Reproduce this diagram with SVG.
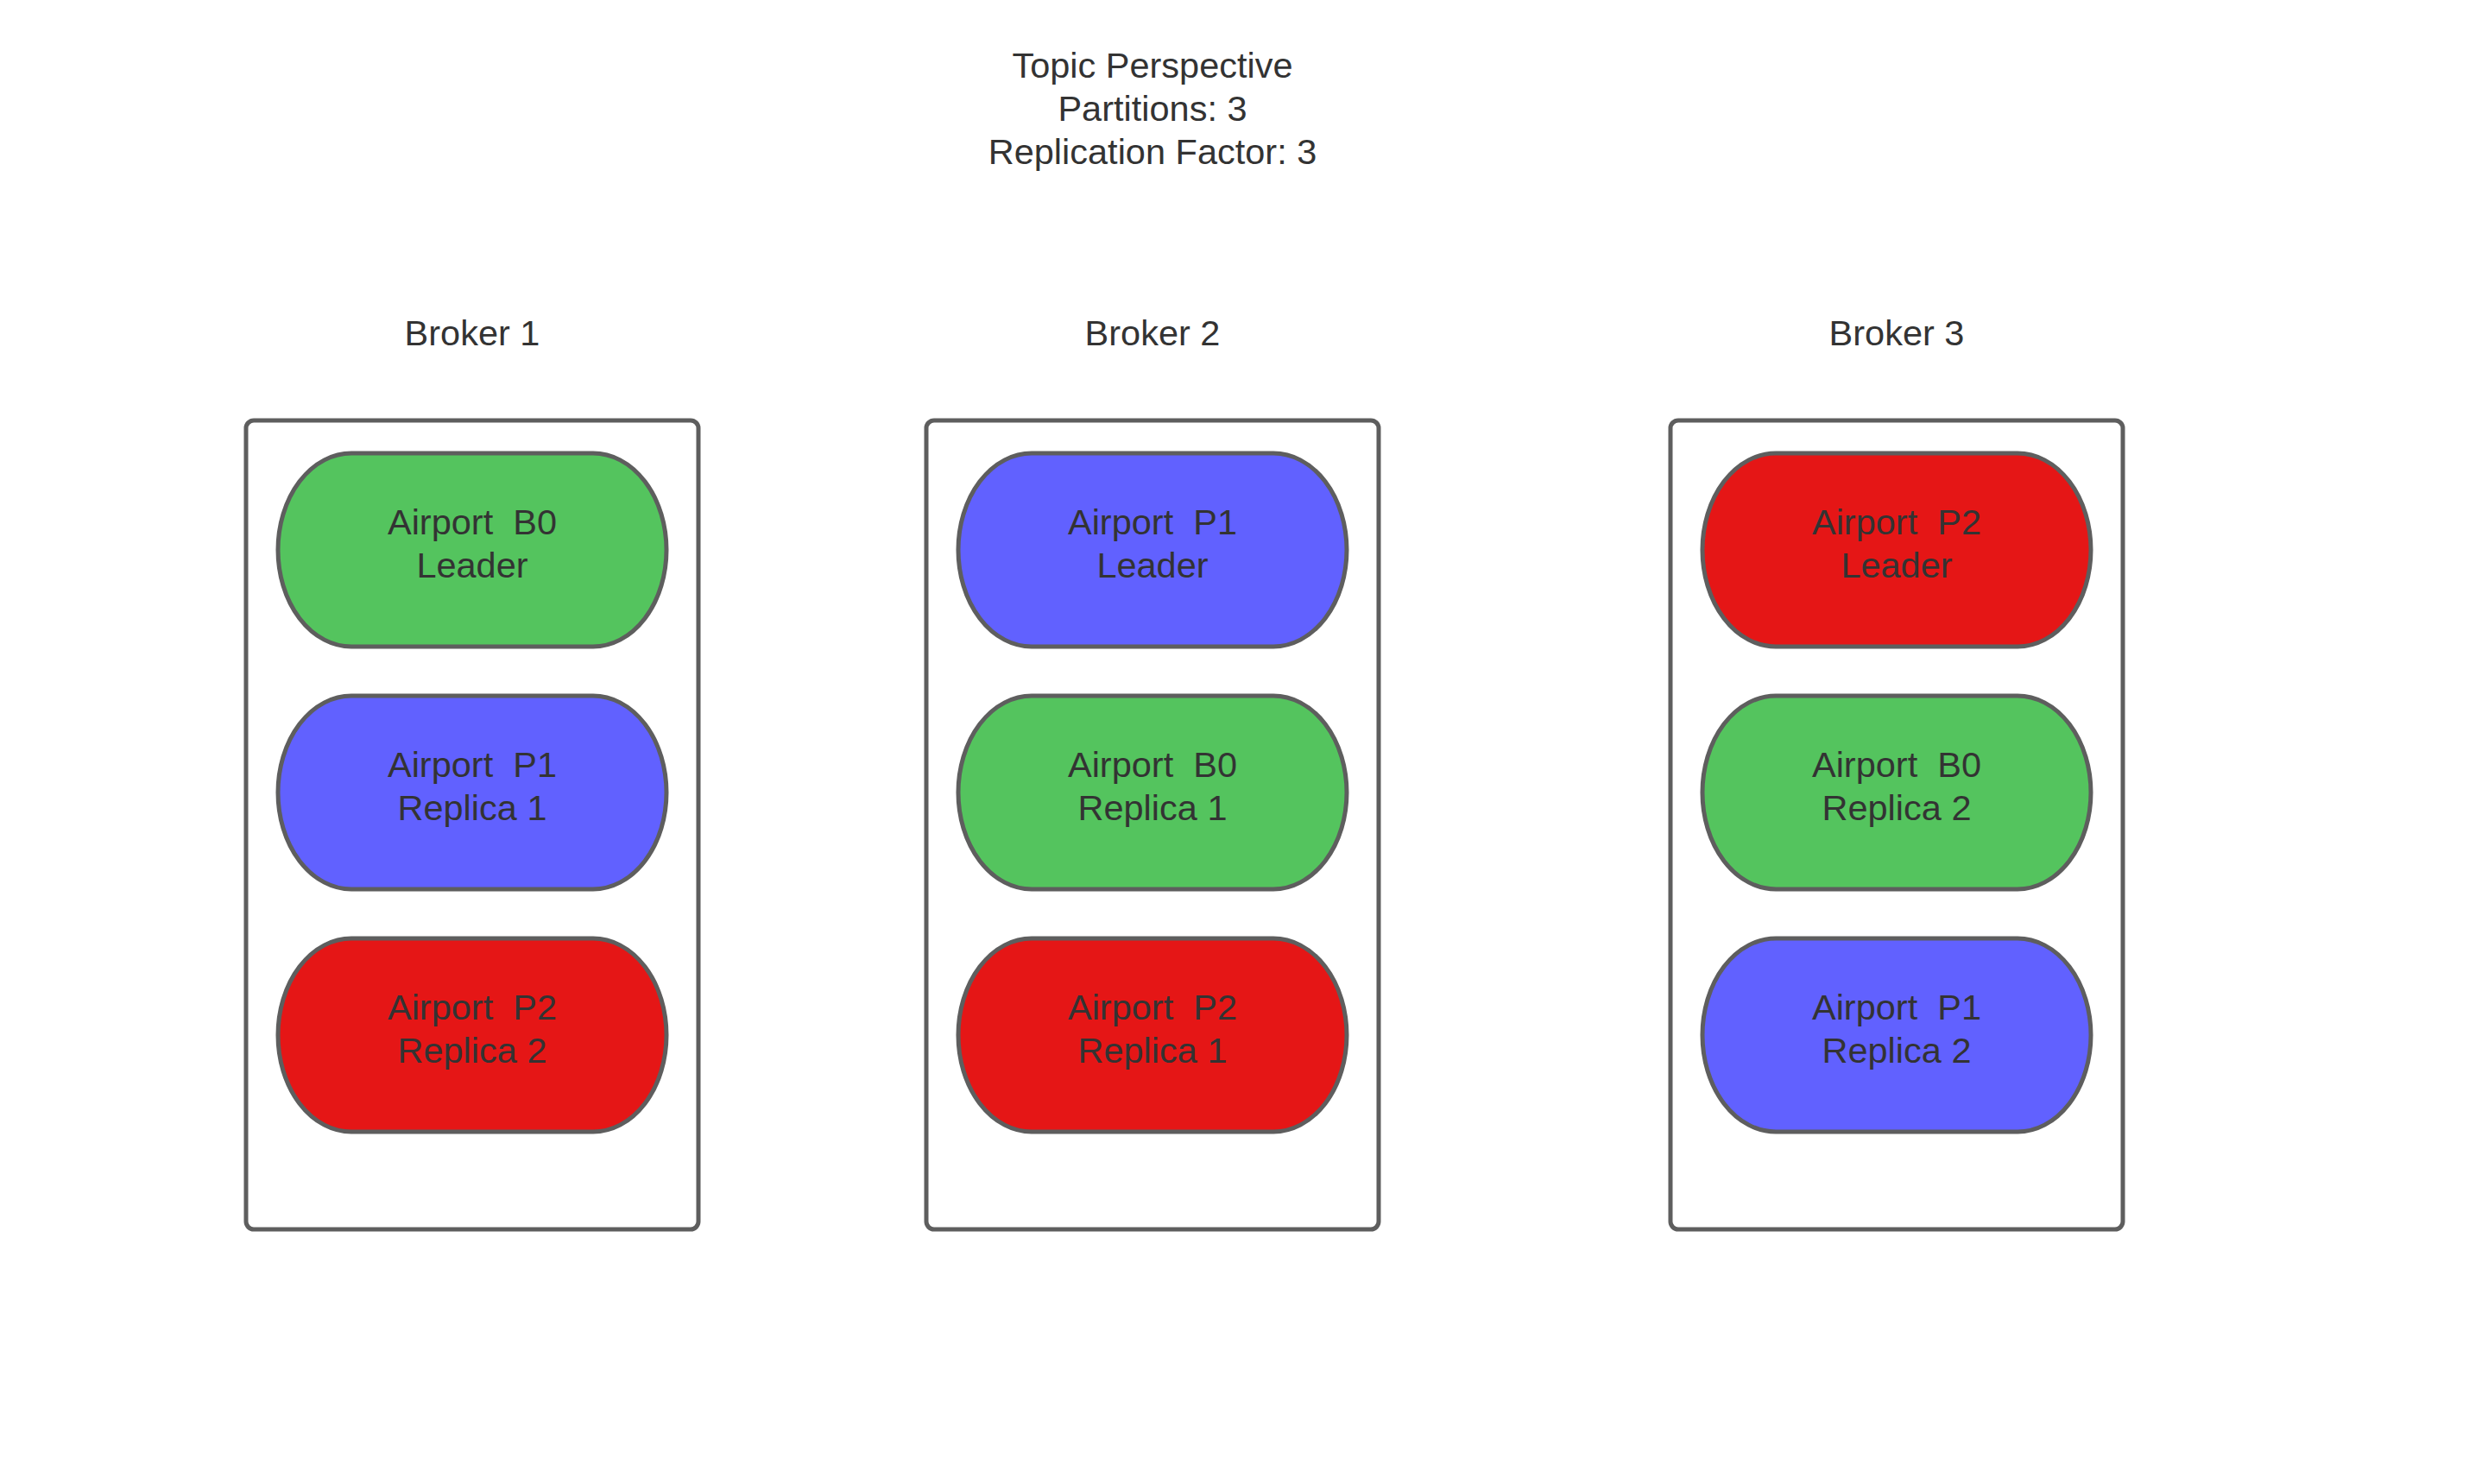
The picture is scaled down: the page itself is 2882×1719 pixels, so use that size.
<svg xmlns="http://www.w3.org/2000/svg" width="2882" height="1719" viewBox="0 0 2882 1719" xml:space="preserve">
<style>
  text { font-family: "Liberation Sans", Arial, sans-serif; font-size: 41.5px; fill: #333333; text-anchor: middle; white-space: pre; }
  .box { fill: #ffffff; stroke: #5e5e5e; stroke-width: 5; }
  .pill { stroke: #5e5e5e; stroke-width: 5; }
  .green { fill: #54c45e; }
  .blue { fill: #6161ff; }
  .red { fill: #e51616; }
</style>
<rect width="2882" height="1719" fill="#ffffff"/>
<g id="title">
  <text x="1335" y="90">Topic Perspective</text>
  <text x="1335" y="140">Partitions: 3</text>
  <text x="1335" y="190">Replication Factor: 3</text>
</g>
<g id="broker1">
  <text x="547" y="400">Broker 1</text>
  <rect class="box" x="285" y="487" width="524" height="937" rx="9"/>
</g>
<g id="broker2">
  <text x="1335" y="400">Broker 2</text>
  <rect class="box" x="1073" y="487" width="524" height="937" rx="9"/>
</g>
<g id="broker3">
  <text x="2197" y="400">Broker 3</text>
  <rect class="box" x="1935" y="487" width="524" height="937" rx="9"/>
</g>
<g id="b1-p0">
  <rect class="pill green" x="322" y="525" width="450" height="224" rx="85" ry="112"/>
  <text x="547" y="619">Airport  B0</text><text x="547" y="669">Leader</text>
</g>
<g id="b1-p1">
  <rect class="pill blue" x="322" y="806" width="450" height="224" rx="85" ry="112"/>
  <text x="547" y="900">Airport  P1</text><text x="547" y="950">Replica 1</text>
</g>
<g id="b1-p2">
  <rect class="pill red" x="322" y="1087" width="450" height="224" rx="85" ry="112"/>
  <text x="547" y="1181">Airport  P2</text><text x="547" y="1231">Replica 2</text>
</g>
<g id="b2-p1">
  <rect class="pill blue" x="1110" y="525" width="450" height="224" rx="85" ry="112"/>
  <text x="1335" y="619">Airport  P1</text><text x="1335" y="669">Leader</text>
</g>
<g id="b2-p0">
  <rect class="pill green" x="1110" y="806" width="450" height="224" rx="85" ry="112"/>
  <text x="1335" y="900">Airport  B0</text><text x="1335" y="950">Replica 1</text>
</g>
<g id="b2-p2">
  <rect class="pill red" x="1110" y="1087" width="450" height="224" rx="85" ry="112"/>
  <text x="1335" y="1181">Airport  P2</text><text x="1335" y="1231">Replica 1</text>
</g>
<g id="b3-p2">
  <rect class="pill red" x="1972" y="525" width="450" height="224" rx="85" ry="112"/>
  <text x="2197" y="619">Airport  P2</text><text x="2197" y="669">Leader</text>
</g>
<g id="b3-p0">
  <rect class="pill green" x="1972" y="806" width="450" height="224" rx="85" ry="112"/>
  <text x="2197" y="900">Airport  B0</text><text x="2197" y="950">Replica 2</text>
</g>
<g id="b3-p1">
  <rect class="pill blue" x="1972" y="1087" width="450" height="224" rx="85" ry="112"/>
  <text x="2197" y="1181">Airport  P1</text><text x="2197" y="1231">Replica 2</text>
</g>
<g id="connectors"></g>
</svg>
